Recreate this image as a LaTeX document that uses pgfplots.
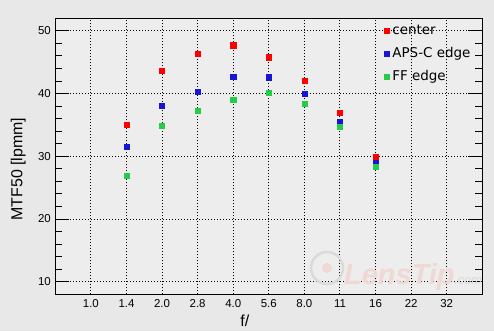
\documentclass[border=0pt]{standalone}
\usepackage{pgfplots}
\pgfplotsset{compat=1.18}
\usepackage{fontspec}
\setmainfont{Liberation Sans}
\newfontfamily\dejavu{DejaVu Sans}
\definecolor{bgouter}{RGB}{232,232,232}
\definecolor{bginner}{RGB}{237,237,237}
\definecolor{cred}{RGB}{255,0,0}
\definecolor{cblue}{RGB}{22,22,212}
\definecolor{cgreen}{RGB}{36,204,72}
\definecolor{wmpink}{RGB}{240,216,213}
\definecolor{wmgray}{RGB}{218,218,218}
\begin{document}
\begin{tikzpicture}[x=1bp,y=1bp]
\fill[bgouter] (0,0) rectangle (494,331);
\begin{axis}[
  at={(55.3bp,36.7bp)}, anchor=south west,
  scale only axis, width=427bp, height=276bp,
  xmin=-1, xmax=11, ymin=8, ymax=52,
  axis background/.style={fill=bginner},
  axis line style={black, line width=1.2bp},
  /pgf/number format/assume math mode=true,
  xtick={0,...,10},
  xticklabels={1.0,1.4,2.0,2.8,4.0,5.6,8.0,11,16,22,32},
  ytick={10,20,30,40,50},
  minor y tick num=4,
  xtick style={draw=none},
  ytick style={black, line width=1bp},
  minor y tick style={black, line width=1bp},
  tick align=inside,
  ytick pos=both,
  major tick length=14bp,
  minor tick length=7bp,
  xmajorgrids, ymajorgrids,
  major grid style={black, line width=1bp, dash pattern=on 1bp off 2bp},
  tick label style={font=\fontsize{11.5}{13}\selectfont},
  xticklabel style={yshift=-2bp},
  yticklabel style={xshift=-1bp},
  xlabel={f/},
  ylabel={MTF50 [lpmm]},
  xlabel style={font=\fontsize{16}{18}\selectfont, at={(axis description cs:0.444,-0.0957)}, anchor=center},
  ylabel style={font=\fontsize{16}{18}\selectfont, at={(axis description cs:-0.0867,0.454)}, anchor=center},
  legend style={at={(axis description cs:0.7686,0.978)}, anchor=north west,
    draw=none, fill=none, inner sep=0pt, column sep=3.5bp, row sep=10bp,
    font=\dejavu\fontsize{13.5}{15}\selectfont,
    nodes={inner sep=0pt, text height=10bp, text depth=3bp}},
  legend cell align=left,
  legend image code/.code={\draw[#1] plot coordinates {(0bp,0bp)};},
  every axis plot/.append style={only marks, mark=square*, mark size=2.6bp},
]
\addplot[color=cred, mark options={fill=cred, draw=cred}] coordinates {
(1,35.0) (2,43.7) (3,46.3) (4,47.7) (5,45.8) (6,42.1) (7,37.0) (8,29.9)};
\addlegendentry{center}
\addplot[color=cblue, mark options={fill=cblue, draw=cblue}] coordinates {
(1,31.5) (2,38.1) (3,40.3) (4,42.7) (5,42.6) (6,40.0) (7,35.5) (8,29.0)};
\addlegendentry{APS-C edge}
\addplot[color=cgreen, mark options={fill=cgreen, draw=cgreen}] coordinates {
(1,26.9) (2,34.9) (3,37.3) (4,39.0) (5,40.2) (6,38.4) (7,34.7) (8,28.3)};
\addlegendentry{FF edge}
\end{axis}
% faint LensTip watermark
\draw[wmgray, line width=2.5bp] (327,63) circle (16);
\fill[wmpink] (327,63) circle (5);
\node[anchor=base west, text=wmpink, inner sep=0pt, font=\fontsize{29}{31}\selectfont\bfseries\itshape] at (344,47) {LensTip};
\node[anchor=base west, text=wmgray, inner sep=0pt, font=\fontsize{13}{15}\selectfont\itshape] at (454,47) {.com};
\end{tikzpicture}
\end{document}
